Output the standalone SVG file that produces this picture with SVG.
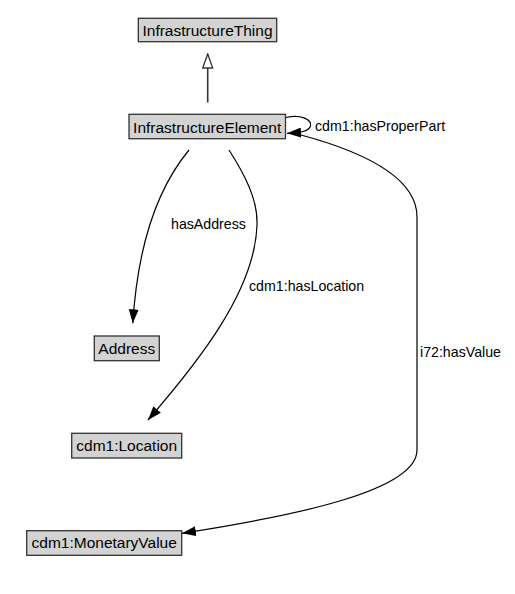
<svg xmlns="http://www.w3.org/2000/svg" width="515" height="594" viewBox="0 0 515 594">
<style>
.node rect{fill:#d3d3d3;stroke:#333;stroke-width:1.3}
.node text{font-family:"Liberation Sans",Arial,sans-serif;font-size:15.5px;fill:#000;text-anchor:middle}
.edge{fill:none;stroke:#000;stroke-width:1.2}
.inh{fill:none;stroke:#333;stroke-width:1.6}
.lbl{font-family:"Liberation Sans",Arial,sans-serif;font-size:14.2px;fill:#000}
</style>
<defs>
<marker id="ah" viewBox="0 0 14 10" refX="14" refY="5" markerWidth="14" markerHeight="10" markerUnits="userSpaceOnUse" orient="auto">
<path d="M0,0 L14,5 L0,10 Z" fill="#000"/>
</marker>
<marker id="hollow" viewBox="0 0 16 12" refX="15" refY="6" markerWidth="16" markerHeight="12" markerUnits="userSpaceOnUse" orient="auto">
<path d="M1,1 L15,6 L1,11 Z" fill="#fff" stroke="#333" stroke-width="1.3"/>
</marker>
</defs>
<rect width="515" height="594" fill="#fff"/>
<g id="connectors">
<path class="inh" d="M207.7,102.5 L207.7,54" marker-end="url(#hollow)"/>
<path class="edge" d="M286,117.5 C300,114 312,119 310.5,126 C309,131 302,132.5 287,133.3" marker-end="url(#ah)"/>
<path class="edge" d="M301,135 C375,155 417,182 417,217 L417,450 C417,490 300,515 182,533.3" marker-end="url(#ah)"/>
<path class="edge" d="M189,150 C160,185 138,240 132.8,323.3" marker-end="url(#ah)"/>
<path class="edge" d="M229,150 C245,175 258,200 257,225 C255,290 200,360 148,420" marker-end="url(#ah)"/>
<text class="lbl" x="315" y="131">cdm1:hasProperPart</text>
<text class="lbl" x="420" y="356.5">i72:hasValue</text>
<text class="lbl" x="171" y="228.5">hasAddress</text>
<text class="lbl" x="249" y="290.5">cdm1:hasLocation</text>
</g>
<g id="InfrastructureThing" class="node">
<rect x="138.3" y="18.3" width="138.4" height="23.4"/>
<text x="207.5" y="36">InfrastructureThing</text>
</g>
<g id="InfrastructureElement" class="node">
<rect x="129" y="114.3" width="156.5" height="24.4"/>
<text x="207.2" y="133.3">InfrastructureElement</text>
</g>
<g id="Address" class="node">
<rect x="94.3" y="336" width="65" height="24.7"/>
<text x="126.8" y="353.5">Address</text>
</g>
<g id="Location" class="node">
<rect x="71.7" y="433.3" width="110" height="24.7"/>
<text x="126.7" y="450.8">cdm1:Location</text>
</g>
<g id="MonetaryValue" class="node">
<rect x="26.7" y="530.7" width="155" height="24.6"/>
<text x="104.2" y="548.3">cdm1:MonetaryValue</text>
</g>
</svg>
